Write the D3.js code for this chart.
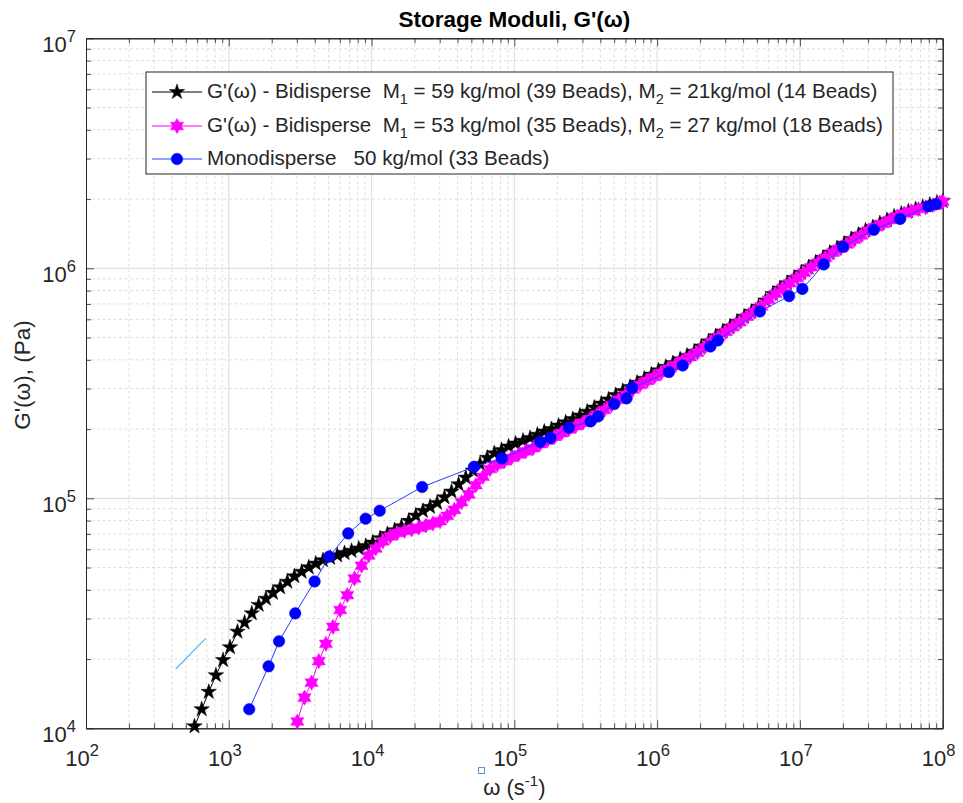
<!DOCTYPE html>
<html><head><meta charset="utf-8">
<script src="https://cdn.jsdelivr.net/npm/d3@7"></script>
<style>
html,body{margin:0;padding:0;background:#fff;}
svg text{font-family:"Liberation Sans",Arial,Helvetica,sans-serif;fill:#262626;white-space:pre;}
</style></head><body>
<svg id="chart" width="963" height="803"></svg>
<script>
// Bidisperse blend 1: M1 = 59 kg/mol, M2 = 21 kg/mol
const omegaBi1 = [575,646,724,813,912,
  1.02e3,1.15e3,1.29e3,1.45e3,1.62e3,1.82e3,2.04e3,2.29e3,2.57e3,2.88e3,3.24e3,3.63e3,4.07e3,4.57e3,5.13e3,5.75e3,6.46e3,7.24e3,8.13e3,9.12e3,
  1.02e4,1.15e4,1.29e4,1.45e4,1.62e4,1.82e4,2.04e4,2.29e4,2.57e4,2.88e4,3.24e4,3.63e4,4.07e4,4.57e4,5.13e4,5.75e4,6.46e4,7.24e4,8.13e4,9.12e4,
  1.02e5,1.15e5,1.29e5,1.45e5,1.62e5,1.82e5,2.04e5,2.29e5,2.57e5,2.88e5,3.24e5,3.63e5,4.07e5,4.57e5,5.13e5,5.75e5,6.46e5,7.24e5,8.13e5,9.12e5,
  1.02e6,1.15e6,1.29e6,1.45e6,1.62e6,1.82e6,2.04e6,2.29e6,2.57e6,2.88e6,3.24e6,3.63e6,4.07e6,4.57e6,5.13e6,5.75e6,6.46e6,7.24e6,8.13e6,9.12e6,
  1.02e7,1.15e7,1.29e7,1.45e7,1.62e7,1.82e7,2.04e7,2.29e7,2.57e7,2.88e7,3.24e7,3.63e7,4.07e7,4.57e7,5.13e7,5.75e7,6.46e7,7.24e7,8.13e7,9.12e7,
  1e8];
const gBi1 = [1.02e4,1.21e4,1.44e4,1.70e4,1.98e4,
  2.25e4,2.63e4,2.88e4,3.16e4,3.44e4,3.66e4,3.88e4,4.10e4,4.34e4,4.58e4,4.79e4,5.01e4,5.20e4,5.38e4,5.51e4,5.65e4,5.78e4,5.91e4,6.05e4,6.21e4,
  6.42e4,6.71e4,6.99e4,7.26e4,7.56e4,7.98e4,8.41e4,8.82e4,9.18e4,9.55e4,1.01e5,1.07e5,1.15e5,1.23e5,1.32e5,1.41e5,1.50e5,1.57e5,1.62e5,1.68e5,
  1.73e5,1.78e5,1.83e5,1.89e5,1.95e5,2.00e5,2.07e5,2.14e5,2.21e5,2.29e5,2.38e5,2.48e5,2.58e5,2.69e5,2.81e5,2.93e5,3.05e5,3.18e5,3.31e5,3.45e5,
  3.60e5,3.73e5,3.87e5,4.02e5,4.17e5,4.34e5,4.57e5,4.81e5,5.06e5,5.31e5,5.58e5,5.86e5,6.16e5,6.47e5,6.81e5,7.25e5,7.74e5,8.16e5,8.61e5,9.08e5,
  9.56e5,1.01e6,1.06e6,1.11e6,1.17e6,1.22e6,1.28e6,1.34e6,1.40e6,1.46e6,1.51e6,1.57e6,1.62e6,1.68e6,1.73e6,1.77e6,1.81e6,1.85e6,1.89e6,1.93e6,
  1.96e6];

// Bidisperse blend 2: M1 = 53 kg/mol, M2 = 27 kg/mol
const omegaBi2 = [3.02e3,3.39e3,3.80e3,4.27e3,4.79e3,5.37e3,6.03e3,6.76e3,7.59e3,8.51e3,9.55e3,
  1.07e4,1.20e4,1.35e4,1.51e4,1.70e4,1.91e4,2.14e4,2.40e4,2.69e4,3.02e4,3.39e4,3.80e4,4.27e4,4.79e4,5.37e4,6.03e4,6.76e4,7.59e4,8.51e4,9.55e4,
  1.07e5,1.20e5,1.35e5,1.51e5,1.70e5,1.91e5,2.14e5,2.40e5,2.69e5,3.02e5,3.39e5,3.80e5,4.27e5,4.79e5,5.37e5,6.03e5,6.76e5,7.59e5,8.51e5,9.55e5,
  1.07e6,1.20e6,1.35e6,1.51e6,1.70e6,1.91e6,2.14e6,2.40e6,2.69e6,3.02e6,3.39e6,3.80e6,4.27e6,4.79e6,5.37e6,6.03e6,6.76e6,7.59e6,8.51e6,9.55e6,
  1.07e7,1.20e7,1.35e7,1.51e7,1.70e7,1.91e7,2.14e7,2.40e7,2.69e7,3.02e7,3.39e7,3.80e7,4.27e7,4.79e7,5.37e7,6.03e7,6.76e7,7.59e7,8.51e7,9.55e7,
  1e8];
const gBi2 = [1.07e4,1.36e4,1.58e4,1.96e4,2.33e4,2.76e4,3.27e4,3.79e4,4.48e4,5.09e4,5.64e4,
  6.05e4,6.50e4,6.83e4,7.06e4,7.21e4,7.32e4,7.45e4,7.61e4,7.77e4,7.95e4,8.39e4,8.91e4,9.61e4,1.04e5,1.14e5,1.24e5,1.34e5,1.40e5,1.45e5,1.50e5,
  1.55e5,1.60e5,1.65e5,1.72e5,1.78e5,1.85e5,1.92e5,1.99e5,2.06e5,2.13e5,2.21e5,2.31e5,2.42e5,2.54e5,2.68e5,2.82e5,2.97e5,3.11e5,3.24e5,3.37e5,
  3.51e5,3.66e5,3.80e5,3.96e5,4.11e5,4.30e5,4.53e5,4.79e5,5.03e5,5.29e5,5.55e5,5.83e5,6.16e5,6.47e5,6.83e5,7.30e5,7.75e5,8.18e5,8.62e5,9.08e5,
  9.56e5,1.01e6,1.06e6,1.11e6,1.17e6,1.22e6,1.27e6,1.33e6,1.39e6,1.46e6,1.51e6,1.56e6,1.62e6,1.68e6,1.73e6,1.77e6,1.81e6,1.84e6,1.88e6,1.93e6,
  1.95e6];

// Monodisperse melt, 50 kg/mol
const omegaMono = [1.39e3,1.90e3,2.25e3,2.92e3,3.99e3,5.05e3,6.86e3,9.09e3,1.14e4,2.26e4,5.21e4,8.18e4,1.52e5,1.79e5,2.41e5,3.42e5,3.86e5,
  5.00e5,6.11e5,6.68e5,1.21e6,1.51e6,2.36e6,2.66e6,5.24e6,8.40e6,1.04e7,1.47e7,2.00e7,3.29e7,5.03e7,7.94e7,8.98e7];
const gMono = [1.21e4,1.86e4,2.39e4,3.16e4,4.35e4,5.58e4,7.04e4,8.15e4,8.83e4,1.12e5,1.37e5,1.49e5,1.76e5,1.83e5,2.03e5,2.16e5,2.27e5,
  2.57e5,2.72e5,3.02e5,3.54e5,3.78e5,4.57e5,4.86e5,6.49e5,7.57e5,8.14e5,1.04e6,1.24e6,1.47e6,1.64e6,1.86e6,1.90e6];

// short reference segment at low frequency
const omegaGuide = [425, 689];
const gGuide = [1.81e4, 2.46e4];

const seriesNames = [
  "G'(ω) - Bidisperse  M_1 = 59 kg/mol (39 Beads), M_2 = 21kg/mol (14 Beads)",
  "G'(ω) - Bidisperse  M_1 = 53 kg/mol (35 Beads), M_2 = 27 kg/mol (18 Beads)",
  "Monodisperse   50 kg/mol (33 Beads)"
];
const xDecades = [1e2,1e3,1e4,1e5,1e6,1e7,1e8];
const yDecades = [1e4,1e5,1e6,1e7];
const titleText = "Storage Moduli, G'(ω)";

// ---------------------------------------------------------------
const svg = d3.select("#chart");
const L = 86, R = 942.7, T = 38.3, B = 728.3;
const x = d3.scaleLog().domain([1e2, 1e8]).range([L, R]);
const y = d3.scaleLog().domain([1e4, 1e7]).range([B, T]);
const axisColor = "#262626";

const minorOf = decs => decs.slice(0, -1).flatMap(d => d3.range(2, 10).map(m => m * d));
const xMinor = minorOf(xDecades), yMinor = minorOf(yDecades);

// grid
const grid = svg.append("g");
grid.selectAll(".xm").data(xMinor).join("line")
  .attr("x1", d => x(d)).attr("x2", d => x(d)).attr("y1", T).attr("y2", B)
  .attr("stroke", "#d6d6d6").attr("stroke-width", 0.8).attr("stroke-dasharray", "3,2.5");
grid.selectAll(".ym").data(yMinor).join("line")
  .attr("y1", d => y(d)).attr("y2", d => y(d)).attr("x1", L).attr("x2", R)
  .attr("stroke", "#d6d6d6").attr("stroke-width", 0.8).attr("stroke-dasharray", "3,2.5");
grid.selectAll(".xM").data(xDecades.slice(1, -1)).join("line")
  .attr("x1", d => x(d)).attr("x2", d => x(d)).attr("y1", T).attr("y2", B)
  .attr("stroke", "#e0e0e0").attr("stroke-width", 1.2);
grid.selectAll(".yM").data(yDecades.slice(1, -1)).join("line")
  .attr("y1", d => y(d)).attr("y2", d => y(d)).attr("x1", L).attr("x2", R)
  .attr("stroke", "#e0e0e0").attr("stroke-width", 1.2);

// axes (ticks point inward on all four sides)
function addAxis(gen, tr, vals, size) {
  const g = svg.append("g").attr("transform", tr).attr("color", axisColor)
    .call(gen.tickValues(vals).tickSize(-size).tickSizeOuter(0).tickFormat(""));
  g.select(".domain").attr("stroke-width", 1);
  g.selectAll(".tick line").attr("stroke-width", 0.8);
  return g;
}
addAxis(d3.axisBottom(x), `translate(0,${B})`, xMinor, 5);
addAxis(d3.axisTop(x), `translate(0,${T})`, xMinor, 5);
addAxis(d3.axisLeft(y), `translate(${L},0)`, yMinor, 5);
addAxis(d3.axisRight(y), `translate(${R},0)`, yMinor, 5);
addAxis(d3.axisBottom(x), `translate(0,${B})`, xDecades, 8);
addAxis(d3.axisTop(x), `translate(0,${T})`, xDecades, 8);
addAxis(d3.axisLeft(y), `translate(${L},0)`, yDecades, 8);
addAxis(d3.axisRight(y), `translate(${R},0)`, yDecades, 8);

// tick labels as 10^n
const expOf = v => Math.round(Math.log10(v));
const xl = svg.append("g");
xDecades.forEach(v => {
  const t = xl.append("text").attr("x", x(v) - 4).attr("y", 766)
    .attr("text-anchor", "middle").attr("font-size", 22);
  t.append("tspan").text("10");
  t.append("tspan").attr("dy", -10).attr("font-size", 16.5).text(expOf(v));
});
yDecades.forEach(v => {
  const t = xl.append("text").attr("x", 76).attr("y", y(v) + 13.5)
    .attr("text-anchor", "end").attr("font-size", 22);
  t.append("tspan").text("10");
  t.append("tspan").attr("dy", -10).attr("font-size", 16.5).text(expOf(v));
});

// axis titles
const xt = svg.append("text").attr("x", (L + R) / 2).attr("y", 795)
  .attr("text-anchor", "middle").attr("font-size", 22);
xt.append("tspan").text("ω (s");
xt.append("tspan").attr("dy", -9).attr("font-size", 15).text("-1");
xt.append("tspan").attr("dy", 9).text(")");
svg.append("text").attr("transform", `translate(30,375) rotate(-90)`)
  .attr("text-anchor", "middle").attr("font-size", 22.5).text("G'(ω), (Pa)");
svg.append("text").attr("x", (L + R) / 2).attr("y", 27).attr("text-anchor", "middle")
  .attr("font-size", 22.5).attr("font-weight", "bold").style("fill", "#000").text(titleText);

// markers
const starPath = d3.symbol(d3.symbolStar, 74)();
function hexagramPath(Ro) {
  const ri = Ro / Math.sqrt(3), pts = [];
  for (let i = 0; i < 12; i++) {
    const a = -Math.PI / 2 + i * Math.PI / 6, rr = i % 2 ? ri : Ro;
    pts.push([rr * Math.cos(a), rr * Math.sin(a)]);
  }
  return "M" + pts.map(p => p[0].toFixed(2) + "," + p[1].toFixed(2)).join("L") + "Z";
}
const hexPath = hexagramPath(7.6);
const circlePath = d3.symbol(d3.symbolCircle, Math.PI * 5.8 * 5.8)();

const series = [
  {om: omegaBi1, g: gBi1, color: "#000000", line: "#000000", marker: starPath},
  {om: omegaBi2, g: gBi2, color: "#ff00ff", line: "#ff00ff", marker: hexPath},
  {om: omegaMono, g: gMono, color: "#0000ff", line: "#2040ff", marker: circlePath}
];
const lineGen = d3.line().x(d => x(d[0])).y(d => y(d[1]));

// guide segment
svg.append("path").datum(d3.zip(omegaGuide, gGuide)).attr("d", lineGen)
  .attr("fill", "none").attr("stroke", "#4dbeee").attr("stroke-width", 1.2);

series.forEach(s => {
  const pts = d3.zip(s.om, s.g);
  const g = svg.append("g");
  g.append("path").datum(pts).attr("d", lineGen)
    .attr("fill", "none").attr("stroke", s.line).attr("stroke-width", 1);
  g.selectAll("path.m").data(pts).join("path").attr("class", "m")
    .attr("d", s.marker).attr("transform", d => `translate(${x(d[0])},${y(d[1])})`)
    .attr("fill", s.color).attr("stroke", s.color).attr("stroke-width", 0.5);
});

// legend
const lg = svg.append("g");
lg.append("rect").attr("x", 146).attr("y", 72).attr("width", 747).attr("height", 102)
  .attr("fill", "#fff").attr("stroke", axisColor).attr("stroke-width", 1);
const rowY = [92, 126, 159];
series.forEach((s, i) => {
  const yy = rowY[i];
  lg.append("line").attr("x1", 152).attr("x2", 202).attr("y1", yy).attr("y2", yy)
    .attr("stroke", s.line).attr("stroke-width", 1);
  lg.append("path").attr("d", s.marker).attr("transform", `translate(177,${yy})`)
    .attr("fill", s.color).attr("stroke", s.color).attr("stroke-width", 0.5);
  const t = lg.append("text").attr("x", 207).attr("y", yy + 6).attr("font-size", 20.6);
  const parts = seriesNames[i].split(/_(\d)/);
  parts.forEach((p, j) => {
    const sp = t.append("tspan").text(p);
    if (j % 2 === 1) sp.attr("dy", 6).attr("font-size", 14.5);
    else if (j > 0) sp.attr("dy", -6);
  });
});

// small selection handle below the x label
svg.append("rect").attr("x", 478.5).attr("y", 767.5).attr("width", 6).attr("height", 6)
  .attr("fill", "none").attr("stroke", "#5b9bd5").attr("stroke-width", 1);
</script>
</body></html>
